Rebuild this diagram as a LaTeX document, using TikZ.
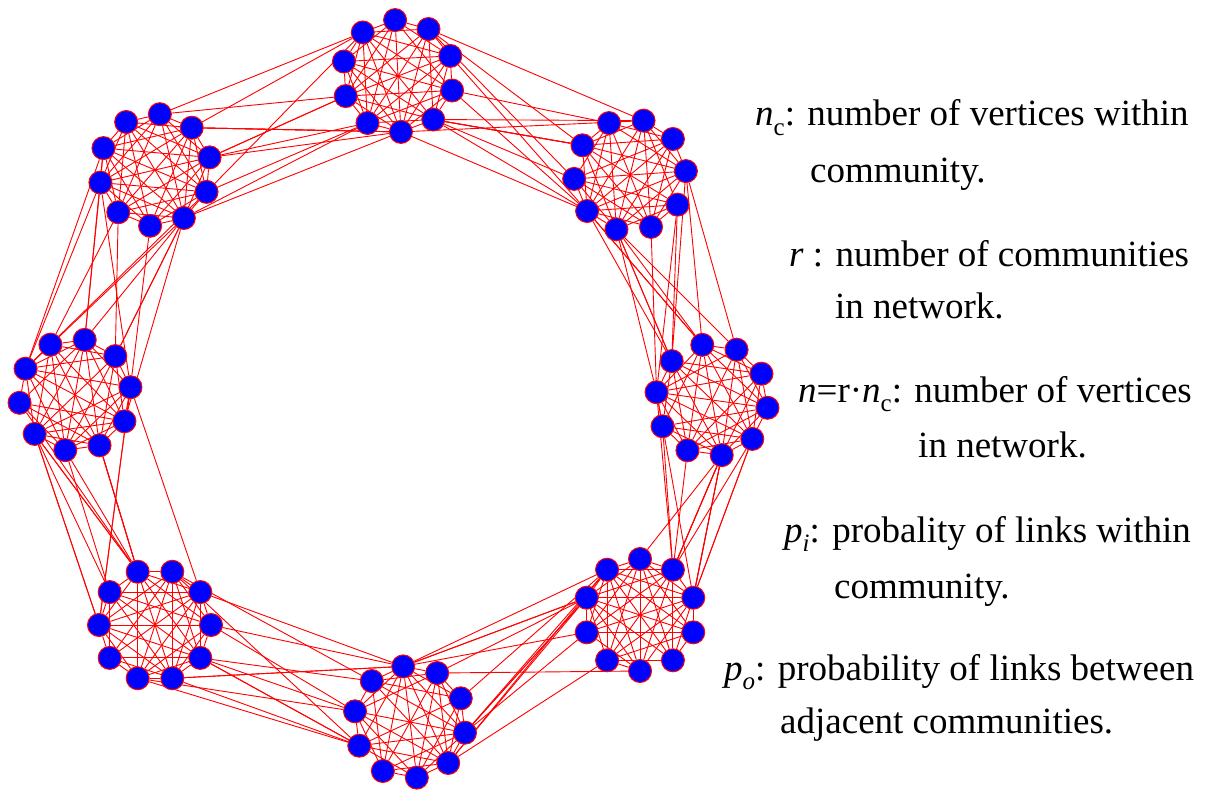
\documentclass[tikz,border=0pt]{standalone}
\usepackage{fontspec}
\setmainfont{Liberation Serif}
\usetikzlibrary{backgrounds,calc}
\newcommand\lowsub[1]{\raisebox{-0.25em}{\fontsize{25}{25}\selectfont #1}}
\begin{document}
\begin{tikzpicture}[x=1pt,y=-1pt,
  vtx/.style={circle,fill=blue,draw=red,line width=1pt,minimum size=23pt,inner sep=0pt},
  link/.style={red,line width=0.9pt},
  lab/.style={anchor=base west,inner sep=0pt,font=\fontsize{37}{44}\selectfont}]
\useasboundingbox (0,0) rectangle (1214,791);
\pgfmathsetseed{4242}
% communities: index/cx/cy/rotation offset
\foreach \k/\cx/\cy/\off in {0/398/76/-93, 1/630/175/-76, 2/712/400/-100, 3/640/615/-90, 4/410/722/-97, 5/155/625/-72, 6/75/395/-80, 7/155/170/-85}{
  \foreach \j in {0,...,9}{
    \node[vtx] (c\k-\j) at ($(\cx,\cy)+(\off+36*\j:56)$) {};
  }
}
\begin{pgfonlayer}{background}
% links within communities
\foreach \k in {0,...,7}{
  \foreach \i in {0,...,8}{
    \pgfmathtruncatemacro\ii{\i+1}
    \foreach \j in {\ii,...,9}{
      \pgfmathrandominteger{\rr}{1}{100}
      \ifnum\rr<90 \draw[link] (c\k-\i) -- (c\k-\j);\fi
    }
  }
}
% links between adjacent communities
\foreach \a/\ax/\ay/\ao/\b/\bx/\by/\bo in {
  0/398/76/-93/1/630/175/-76,
  1/630/175/-76/2/712/400/-100,
  2/712/400/-100/3/640/615/-90,
  3/640/615/-90/4/410/722/-97,
  4/410/722/-97/5/155/625/-72,
  5/155/625/-72/6/75/395/-80,
  6/75/395/-80/7/155/170/-85,
  7/155/170/-85/0/398/76/-93}{
  \pgfmathsetmacro\dir{atan2(\by-\ay,\bx-\ax)}
  \foreach \n in {1,...,14}{
    \pgfmathrandominteger{\da}{-90}{90}
    \pgfmathrandominteger{\db}{-90}{90}
    \pgfmathtruncatemacro\ia{mod(round((\dir+\da-\ao)/36)+100,10)}
    \pgfmathtruncatemacro\ib{mod(round((\dir+180+\db-\bo)/36)+100,10)}
    \draw[link] (c\a-\ia) -- (c\b-\ib);
  }
}
\end{pgfonlayer}
% legend
\node[lab] (t1a) at (755,126) {\textit{n}\lowsub{c}: number of vertices within};
\node[lab] (t1b) at (810,183) {community.};
\node[lab] (t2a) at (789,267) {\textit{r} : number of communities};
\node[lab] (t2b) at (835,318) {in network.};
\node[lab] (t3a) at (798,402) {\textit{n}=r·\textit{n}\lowsub{c}: number of vertices};
\node[lab] (t3b) at (918,457) {in network.};
\node[lab] (t4a) at (784,542) {\textit{p}\lowsub{\textit{i}}: probality of links within};
\node[lab] (t4b) at (834,598) {community.};
\node[lab] (t5a) at (724,680) {\textit{p}\lowsub{\textit{o}}: probability of links between};
\node[lab] (t5b) at (780,733) {adjacent communities.};
\end{tikzpicture}
\end{document}
